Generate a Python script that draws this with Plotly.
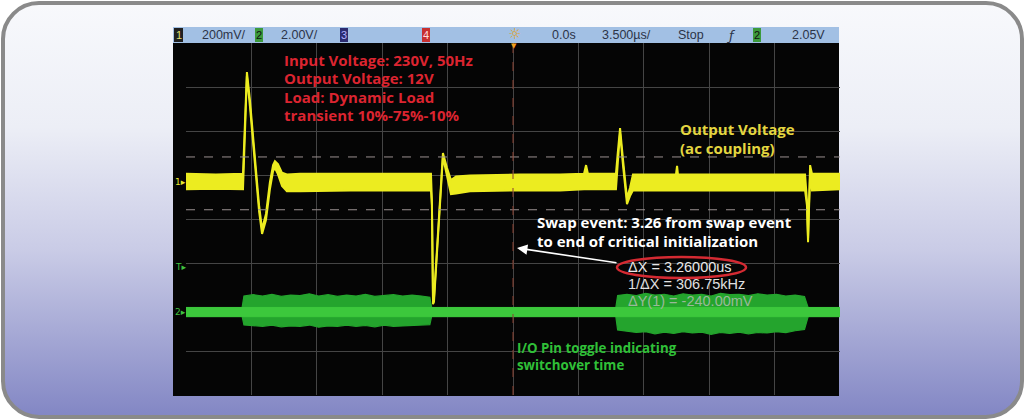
import base64
import plotly.graph_objects as go

# ---------------- scope settings (from the status bar) ----------------
ch1_scale_mV = 200.0        # mV / div
ch2_scale_V = 2.00          # V / div
time_scale_us = 3.5         # µs / div
trigger_level_V = 2.05
ch1_offset_div = 0.84       # ch1 ground marker, divisions above centre
ch2_offset_div = -2.11      # ch2 ground marker, divisions above centre

status_items = ["200mV/", "2.00V/", "0.0s", "3.500µs/", "Stop", "2.05V"]

# ---------------- channel 1 : output voltage (ac coupling), envelope in mV ----------------
ch1_time_us = [-17.5, -15.9, -14.45, -14.34, -14.24, -14.08, -13.81, -13.59, -13.43, -13.22,
               -13.01, -12.84, -12.74, -12.58, -12.36, -12.1, -11.4, -8.7, -6.05, -4.39,
               -4.34, -4.28, -4.23, -4.01, -3.75, -3.53, -3.32, -3.05, -2.3, 0.37,
               2.52, 3.8, 3.91, 4.01, 5.51, 5.62, 5.73, 5.89, 6.1, 6.26,
               6.42, 8.72, 8.78, 8.83, 15.63, 15.73, 15.79, 15.84, 15.9, 16.0, 17.5]
ch1_upper_mV = [38, 34, 38, 327, 500, 373, 100, -105, -214, -145,
                0, 77, 95, 82, 42, 34, 38, 38, 38, 38,
                -82, -536, -527, -218, 132, 64, 9, 25, 30, 34,
                34, 38, 77, 38, 38, 145, 245, 100, -73, -27,
                34, 34, 73, 34, 34, -82, -255, -105, 77, 38, 38]
ch1_lower_mV = [-33, -30, -33, 259, 482, 345, 73, -132, -236, -173,
                -33, 50, 64, 36, -18, -42, -42, -38, -38, -38,
                -105, -555, -545, -236, 114, 27, -55, -52, -42, -38,
                -38, -33, -33, -33, -33, 100, 223, 73, -100, -64,
                -38, -38, -38, -38, -38, -105, -273, -127, 32, -38, -33]

# ---------------- channel 2 : I/O pin toggle, envelope in V ----------------
ch2_time_us = [-17.5, -14.5, -14.4, -13.9, -13.4, -12.9, -12.4, -11.9, -11.4, -10.9,
               -10.4, -9.9, -9.4, -8.9, -8.4, -7.9, -7.4, -6.9, -6.4, -5.9,
               -5.4, -4.9, -4.45, -4.35, 5.5, 5.6, 6.1, 6.6, 7.1, 7.6,
               8.1, 8.6, 9.1, 9.6, 10.1, 10.6, 11.1, 11.6, 12.1, 12.6,
               13.1, 13.6, 14.1, 14.6, 15.1, 15.6, 15.8, 17.5]
ch2_upper_V = [0.18, 0.18, 0.72, 0.78, 0.72, 0.8, 0.7, 0.76, 0.74, 0.82,
               0.72, 0.78, 0.7, 0.76, 0.72, 0.8, 0.7, 0.74, 0.78, 0.72,
               0.76, 0.72, 0.66, 0.18, 0.18, 0.74, 0.8, 0.74, 0.84, 0.76,
               0.8, 0.72, 0.82, 0.76, 0.8, 0.72, 0.84, 0.78, 0.8, 0.74,
               0.82, 0.76, 0.8, 0.72, 0.76, 0.7, 0.18, 0.18]
ch2_lower_V = [-0.2, -0.2, -0.6, -0.62, -0.66, -0.6, -0.68, -0.64, -0.66, -0.6,
               -0.7, -0.64, -0.66, -0.6, -0.66, -0.62, -0.68, -0.6, -0.66, -0.64,
               -0.62, -0.6, -0.58, -0.2, -0.2, -0.82, -0.88, -0.94, -0.9, -1.0,
               -0.92, -0.98, -0.9, -0.96, -0.92, -1.02, -0.94, -0.98, -0.92, -1.0,
               -0.94, -0.96, -0.9, -0.94, -0.86, -0.8, -0.2, -0.2]
ch2_core_time_us = [-17.5, 17.5]
ch2_core_upper_V = [0.2, 0.2]
ch2_core_lower_V = [-0.22, -0.22]

# ---------------- cursors / measurements ----------------
cursor_y_mV = [114, -126]
meas_dx = "ΔX = 3.26000us"
meas_inv = "1/ΔX = 306.75kHz"
meas_dy = "ΔY(1) = -240.00mV"

# ---------------- geometry helpers ----------------
W, H = 1025, 420
L, R, T, B = 186, 185, 43, 25
PW, PH = W - L - R, H - T - B


def px(x):
    return (x - L) / PW


def py(y):
    return (H - B - y) / PH


def c1(v):
    return [ch1_offset_div + a / ch1_scale_mV for a in v]


def c2(v):
    return [ch2_offset_div + a / ch2_scale_V for a in v]


x_half = 5 * time_scale_us

fig = go.Figure()

# channel 2 (green)
fig.add_trace(go.Scatter(x=ch2_time_us, y=c2(ch2_lower_V), mode="lines",
                         line=dict(color="#24a42d", width=1.2), hoverinfo="skip"))
fig.add_trace(go.Scatter(x=ch2_time_us, y=c2(ch2_upper_V), mode="lines",
                         line=dict(color="#24a42d", width=1.2), fill="tonexty",
                         fillcolor="#24a42d", hoverinfo="skip"))
fig.add_trace(go.Scatter(x=ch2_core_time_us, y=c2(ch2_core_lower_V), mode="lines",
                         line=dict(color="#3cc83c", width=1), hoverinfo="skip"))
fig.add_trace(go.Scatter(x=ch2_core_time_us, y=c2(ch2_core_upper_V), mode="lines",
                         line=dict(color="#3cc83c", width=1), fill="tonexty",
                         fillcolor="#3cc83c", hoverinfo="skip"))

# channel 1 (yellow)
fig.add_trace(go.Scatter(x=ch1_time_us, y=c1(ch1_lower_mV), mode="lines",
                         line=dict(color="#ecec20", width=2), hoverinfo="skip"))
fig.add_trace(go.Scatter(x=ch1_time_us, y=c1(ch1_upper_mV), mode="lines",
                         line=dict(color="#ecec20", width=2), fill="tonexty",
                         fillcolor="#ecec20", hoverinfo="skip"))

# cursors
for cy in cursor_y_mV:
    fig.add_trace(go.Scatter(x=[-x_half, x_half], y=c1([cy, cy]), mode="lines",
                             line=dict(color="#9a9090", width=1, dash="dash"),
                             hoverinfo="skip"))
# time reference line
fig.add_trace(go.Scatter(x=[0, 0], y=[-4, 4], mode="lines",
                         line=dict(color="#8a4030", width=1, dash="dash"), hoverinfo="skip"))

# ---------------- background frame (SVG) ----------------
svg = (
    "<svg xmlns='http://www.w3.org/2000/svg' width='1025' height='420'>"
    "<defs><linearGradient id='g' x1='0' y1='0' x2='0' y2='1'>"
    "<stop offset='0' stop-color='#f8f9fc'/>"
    "<stop offset='0.3' stop-color='#eceef6'/>"
    "<stop offset='0.6' stop-color='#c9cbe6'/>"
    "<stop offset='1' stop-color='#8286c4'/>"
    "</linearGradient></defs>"
    "<rect x='3' y='3' width='1019' height='414' rx='36' ry='36' fill='url(#g)' "
    "stroke='#8a8a8a' stroke-width='4'/></svg>"
)
src = "data:image/svg+xml;base64," + base64.b64encode(svg.encode()).decode()
fig.add_layout_image(dict(source=src, xref="paper", yref="paper", x=px(0), y=py(0),
                          sizex=W / PW, sizey=H / PH, xanchor="left", yanchor="top",
                          sizing="stretch", layer="below"))

shapes = []
# black screen
shapes.append(dict(type="rect", xref="paper", yref="paper", x0=px(173), x1=px(839),
                   y0=py(396), y1=py(43), fillcolor="#050505", line=dict(width=0),
                   layer="below"))
# status bar
shapes.append(dict(type="rect", xref="paper", yref="paper", x0=px(173), x1=px(839),
                   y0=py(43), y1=py(27), fillcolor="#a2c0e4", line=dict(width=0),
                   layer="below"))
# channel boxes on status bar
boxes = [(174, 183, "#202020", "1", "#e0e070"), (255, 263, "#3c9a3c", "2", "#101010"),
         (340, 348, "#2c2c70", "3", "#b0b0ff"), (422, 430, "#c83030", "4", "#ffdddd"),
         (753, 761, "#3c9a3c", "2", "#101010")]
annotations = []
for x0, x1, fc, t, tc in boxes:
    shapes.append(dict(type="rect", xref="paper", yref="paper", x0=px(x0), x1=px(x1),
                       y0=py(42), y1=py(28), fillcolor=fc, line=dict(width=0), layer="below"))
    annotations.append(dict(xref="paper", yref="paper", x=px((x0 + x1) / 2), y=py(35),
                            text=t, showarrow=False, xanchor="center", yanchor="middle",
                            font=dict(family="Liberation Sans", size=11, color=tc)))

# ellipse around ΔX
shapes.append(dict(type="circle", xref="paper", yref="paper", x0=px(617), x1=px(746),
                   y0=py(278), y1=py(257), line=dict(color="#d42a32", width=2.5)))

status_pos = [200, 279, 550, 600, 676, 790]
for xx, t in zip(status_pos, status_items):
    annotations.append(dict(xref="paper", yref="paper", x=px(xx), y=py(35), text=t,
                            showarrow=False, xanchor="left", yanchor="middle",
                            font=dict(family="Liberation Sans", size=12.5, color="#2c3448")))
annotations.append(dict(xref="paper", yref="paper", x=px(514), y=py(34), text="☼",
                        showarrow=False, xanchor="center", yanchor="middle",
                        font=dict(family="DejaVu Sans", size=15, color="#e0a020")))
annotations.append(dict(xref="paper", yref="paper", x=px(514), y=py(46), text="▼",
                        showarrow=False, xanchor="center", yanchor="middle",
                        font=dict(family="DejaVu Sans", size=7, color="#f0a020")))
annotations.append(dict(xref="paper", yref="paper", x=px(731), y=py(35), text="<i>ƒ</i>",
                        showarrow=False, xanchor="center", yanchor="middle",
                        font=dict(family="DejaVu Sans", size=13, color="#2c3448")))

# channel markers on left strip
for yv, t, col in [(ch1_offset_div, "1▸", "#e8e830"),
                   (ch2_offset_div + trigger_level_V / ch2_scale_V, "T▸", "#40c040"),
                   (ch2_offset_div, "2▸", "#40c040")]:
    annotations.append(dict(xref="paper", yref="y", x=px(180), y=yv, text=t,
                            showarrow=False, xanchor="center", yanchor="middle",
                            font=dict(family="DejaVu Sans", size=9, color=col)))


def label(x, y, text, color, size=15, bold=True, family="Open Sans"):
    annotations.append(dict(xref="paper", yref="paper", x=px(x), y=py(y),
                            text=("<b>%s</b>" % text) if bold else text, showarrow=False,
                            xanchor="left", yanchor="middle",
                            font=dict(family=family, size=size, color=color)))


red = "#dc2430"
label(282, 60, "Input Voltage: 230V, 50Hz", red)
label(282, 78, "Output Voltage: 12V", red)
label(282, 96.5, "Load: Dynamic Load", red)
label(282, 115, "transient 10%-75%-10%", red)
label(678, 129, "Output Voltage", "#e4d640")
label(678, 147.5, "(ac coupling)", "#e4d640")
label(535, 222, "Swap event: 3.26 from swap event", "#ffffff")
label(535, 240.5, "to end of critical initialization", "#ffffff")
label(515, 348, "I/O Pin toggle indicating", "#30c038", size=13.3)
label(515, 364.5, "switchover time", "#30c038", size=13.3)
label(626, 267, meas_dx, "#e8e8e8", size=14.5, bold=False, family="Liberation Sans")
label(626, 284, meas_inv, "#e0e0e0", size=14.5, bold=False, family="Liberation Sans")
label(626, 301, meas_dy, "#9ab89a", size=14.5, bold=False, family="Liberation Sans")

# arrow
annotations.append(dict(xref="paper", yref="paper", x=px(517), y=py(248), ax=101, ay=15,
                        text="", showarrow=True, arrowhead=2, arrowsize=1.3,
                        arrowwidth=1.6, arrowcolor="#ffffff"))

fig.update_layout(
    width=W, height=H, margin=dict(l=L, r=R, t=T, b=B, pad=0),
    paper_bgcolor="#ffffff", plot_bgcolor="rgba(0,0,0,0)",
    showlegend=False, shapes=shapes, annotations=annotations,
    xaxis=dict(range=[-x_half, x_half], tick0=0, dtick=time_scale_us, showgrid=True,
               gridcolor="#454545", gridwidth=1, zeroline=False, showticklabels=False,
               ticks="", fixedrange=True),
    yaxis=dict(range=[-4, 4], tick0=0, dtick=1, showgrid=True, gridcolor="#454545",
               gridwidth=1, zeroline=False, showticklabels=False, ticks="", fixedrange=True),
)

fig.write_html("out.html", config={"displayModeBar": False},
               post_script="document.body.style.margin='0';document.body.style.overflow='hidden';")
